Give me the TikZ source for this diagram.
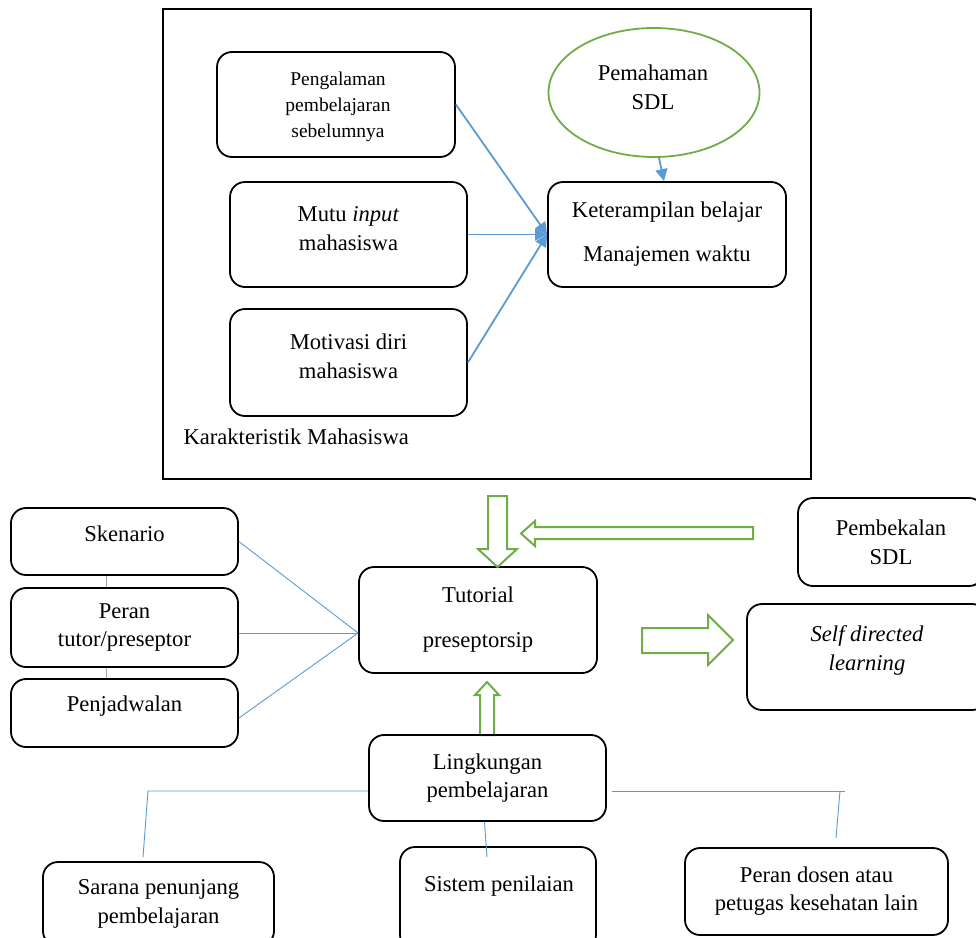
\documentclass[tikz,border=0pt]{standalone}
\usepackage{fontspec}
\setmainfont{Liberation Serif}
\usetikzlibrary{arrows.meta}
\usetikzlibrary{shapes.geometric}

\definecolor{lineblue}{HTML}{5B9BD5}
\definecolor{arrowgreen}{HTML}{70AD47}
\definecolor{linkgray}{HTML}{A6A6A6}

\tikzset{
  every node/.style={font=\fontsize{22.6}{29}\selectfont},
  box/.style={draw, line width=1.8pt, rounded corners=15pt, inner sep=0pt, align=center},
  txt/.style={align=center, inner sep=0pt},
  link/.style={lineblue, line width=1.8pt, -{Triangle[length=12pt,width=12pt]}},
  thinlink/.style={lineblue, line width=0.9pt},
  graylink/.style={linkgray, line width=0.9pt},
  blockarrow/.style={arrowgreen, line width=2pt, fill=white, line join=miter},
}

\begin{document}
\begin{tikzpicture}[x=1pt,y=-1pt]
\useasboundingbox (0,0) rectangle (976,937);
\fill[white] (0,0) rectangle (976,937);

% karakteristik mahasiswa
\node (frame) [draw,line width=2pt,minimum width=648pt,minimum height=470pt] at (487,244) {};
\node (karakter) [anchor=base west] at (180,444) {Karakteristik Mahasiswa};
\node (peng) [box,minimum width=238pt,minimum height=105pt] at (336,104.5) {};
\node (pengtxt) [txt,font=\fontsize{19.5}{26}\selectfont] at (338,107) {Pengalaman\\pembelajaran\\sebelumnya};
\node (mutu) [box,minimum width=237pt,minimum height=105pt] at (348.5,234.5) {};
\node (mututxt) [txt] at (348.5,229) {Mutu \textit{input}\\mahasiswa};
\node (motivasi) [box,minimum width=237pt,minimum height=107pt] at (348.5,362.5) {};
\node (motivasitxt) [txt] at (348.5,356) {Motivasi diri\\mahasiswa};
\node (paham) [draw=arrowgreen,ellipse,line width=1.8pt,minimum width=211pt,minimum height=129pt,inner sep=0pt] at (654,92.5) {};
\node (pahamtxt) [txt] at (653,87) {Pemahaman\\SDL};
\node (terampil) [box,font=\fontsize{22.6}{44}\selectfont,minimum width=238pt,minimum height=105pt] at (667,234.5) {Keterampilan belajar\\Manajemen waktu};
\draw [link] (peng.east) -- (terampil.west);
\draw [link] (mutu.east) -- (terampil.west);
\draw [link] (motivasi.east) -- (terampil.west);
\draw [link] ([xshift=5pt]paham.south) -- ([xshift=-3pt]terampil.north);

% tutorial
\node (skenario) [box,minimum width=227pt,minimum height=67pt] at (124.5,541.5) {};
\node (skenariotxt) [txt] at (124.5,533.5) {Skenario};
\node (peran) [box,font=\fontsize{22.6}{28}\selectfont,minimum width=227pt,minimum height=79pt] at (124.5,627.5) {Peran\\tutor/preseptor};
\node (jadwal) [box,minimum width=227pt,minimum height=68pt] at (124.5,713) {};
\node (jadwaltxt) [txt] at (124.5,706) {Penjadwalan};
\node (tutorial) [box,font=\fontsize{22.6}{45}\selectfont,minimum width=238pt,minimum height=106pt] at (478,620) {Tutorial\\preseptorsip};
\node (bekal) [box,minimum width=186pt,minimum height=88pt] at (891,542) {Pembekalan\\SDL};
\node (sdl) [box,minimum width=240pt,minimum height=106pt] at (867,657) {};
\node (sdltxt) [txt,font=\fontsize{22.6}{29}\selectfont\itshape] at (867,650) {Self directed\\learning};
\draw [graylink] ([xshift=-18.5pt]skenario.south) -- ([xshift=-18.5pt]peran.north);
\draw [graylink] ([xshift=-18.5pt]peran.south) -- ([xshift=-18.5pt]jadwal.north);
\draw [thinlink] (skenario.east) -- ([yshift=-13pt]tutorial.west);
\draw [thinlink] ([yshift=-5.5pt]peran.east) -- ([yshift=-13pt]tutorial.west);
\draw [thinlink] ([yshift=-5pt]jadwal.east) -- ([yshift=-13pt]tutorial.west);
\draw [blockarrow] (488,496) -- (507,496) -- (507,549) -- (517,549) -- (497.5,567) -- (478,549) -- (488,549) -- cycle;
\draw [blockarrow] (753,527) -- (535,527) -- (535,521) -- (521,533.5) -- (535,546) -- (535,539) -- (753,539) -- cycle;
\draw [blockarrow] (642,628) -- (708,628) -- (708,615) -- (733,640) -- (708,665) -- (708,653) -- (642,653) -- cycle;
\draw [blockarrow] (480,735) -- (480,695) -- (475,695) -- (487,682) -- (499,695) -- (494,695) -- (494,735) -- cycle;

% lingkungan pembelajaran
\node (lingkungan) [box,font=\fontsize{22.6}{28}\selectfont,minimum width=237pt,minimum height=86pt] at (487.5,778) {Lingkungan\\pembelajaran};
\node (sarana) [box,minimum width=231pt,minimum height=84pt] at (158.5,904) {Sarana penunjang\\pembelajaran};
\node (sistem) [box,minimum width=196pt,minimum height=103pt] at (498,898.5) {};
\node (sistemtxt) [txt] at (499,886) {Sistem penilaian};
\node (dosen) [box,font=\fontsize{22.6}{28}\selectfont,minimum width=263pt,minimum height=87pt] at (816.5,891.5) {Peran dosen atau\\petugas kesehatan lain};
\coordinate (kiri) at (148,791);
\coordinate (kanan) at (845,791);
\coordinate (kanan2) at (840,791);
\draw [thinlink] ([yshift=-13pt]lingkungan.west) -- (kiri) -- ([xshift=-15.5pt,yshift=4pt]sarana.north);
\draw [thinlink] ([xshift=-3pt]lingkungan.south) -- ([xshift=-11pt,yshift=-11pt]sistem.north);
\draw [thinlink] ([xshift=5pt,yshift=-13pt]lingkungan.east) -- (kanan);
\draw [thinlink] (kanan2) -- ([xshift=19.5pt,yshift=9pt]dosen.north);
\end{tikzpicture}
\end{document}
